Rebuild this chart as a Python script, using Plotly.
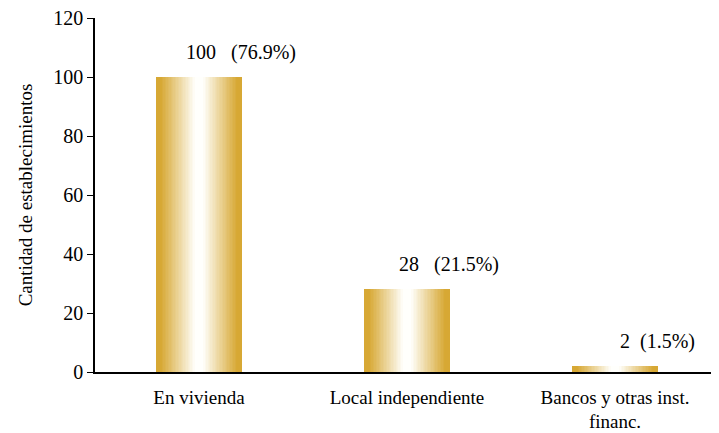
import plotly.graph_objects as go

categories = ["En vivienda", "Local independiente", "Bancos y otras inst.<br>financ."]
values = [100, 28, 2]
labels = ["100   (76.9%)", "28   (21.5%)", "2  (1.5%)"]

FONT = "Times New Roman, Liberation Serif, Tinos, serif"
gold = (215, 168, 52)
white = (255, 255, 252)
bar_w = 0.41
N = 30

fig = go.Figure()
for i in range(N):
    f = 1 - i / N
    d = (1 - f) * 42.5
    t = max(0.0, min(1.0, (d - 4) / 34))
    c = tuple(round(g * (1 - t) + w * t) for g, w in zip(gold, white))
    fig.add_trace(go.Bar(
        x=categories, y=values, width=[bar_w * f] * len(values),
        marker=dict(color="rgb(%d,%d,%d)" % c, line=dict(width=0)),
        showlegend=False, hoverinfo="skip",
    ))

for cat, v, lab in zip(categories, values, labels):
    fig.add_annotation(x=cat, y=v, text=lab, showarrow=False, xshift=42, yshift=25,
                       font=dict(family=FONT, size=20, color="black"))

fig.update_layout(
    width=711, height=425, barmode="overlay", bargap=0,
    plot_bgcolor="white", paper_bgcolor="white",
    margin=dict(l=87, r=0, t=10, b=61, autoexpand=False),
    font=dict(family=FONT, size=19, color="black"),
)
fig.update_xaxes(showline=True, linecolor="black", linewidth=1.5, ticks="",
                 showgrid=False, tickfont=dict(family=FONT, size=19), automargin=False,
                 ticklabelstandoff=7)
fig.update_yaxes(range=[0, 120], dtick=20, showline=True, linecolor="black", linewidth=1.5,
                 ticks="outside", ticklen=6, tickcolor="black", showgrid=False, zeroline=False,
                 tickfont=dict(family=FONT, size=20), automargin=False, ticklabeloverflow="allow",
                 title=dict(text="Cantidad de establecimientos", font=dict(family=FONT, size=19), standoff=16))

fig.write_html("out.html")
